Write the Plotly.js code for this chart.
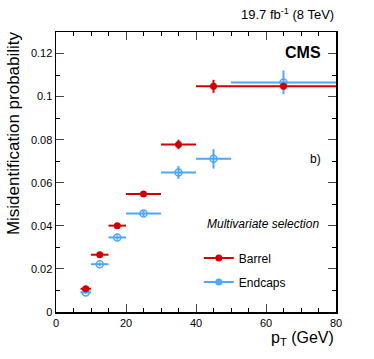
<!DOCTYPE html>
<html>
<head>
<meta charset="utf-8">
<script src="https://cdn.plot.ly/plotly-3.0.1.min.js"></script>
<style>
  body { margin: 0; background: #fff; }
  #chart { width: 374px; height: 359px; }
</style>
</head>
<body>
<div id="chart"></div>
<script>
// pT bins (GeV)
const binLow = [7, 10, 15, 20, 30, 40, 50];
const binHigh = [10, 15, 20, 30, 40, 50, 80];
const binCenter = [8.5, 12.5, 17.5, 25, 35, 45, 65];

// misidentification probability, barrel
const barrelProb = [0.0108, 0.0266, 0.0401, 0.0548, 0.0778, 0.1048, 0.1048];
const barrelErr = [0.0008, 0.0010, 0.0010, 0.0010, 0.0022, 0.0030, 0.0015];

// misidentification probability, endcaps
const endcapProb = [0.0091, 0.0222, 0.0346, 0.0457, 0.0648, 0.0711, 0.1066];
const endcapErr = [0.0006, 0.0008, 0.0010, 0.0012, 0.0030, 0.0045, 0.0055];

const red = '#d10000';
const blue = '#4da6ff';
const font = 'Liberation Sans, Arial, sans-serif';

const xErrPlus = binHigh.map((h, i) => h - binCenter[i]);
const xErrMinus = binLow.map((l, i) => binCenter[i] - l);

const data = [
  {
    x: binCenter, y: endcapProb, type: 'scatter', mode: 'markers',
    showlegend: false,
    marker: { symbol: 'circle-open', size: 7, color: blue, line: { width: 1.5, color: blue } },
    error_x: { type: 'data', array: xErrPlus, arrayminus: xErrMinus, symmetric: false, width: 0, thickness: 2, color: blue },
    error_y: { type: 'data', array: endcapErr, width: 0, thickness: 2, color: blue }
  },
  {
    x: binCenter, y: barrelProb, type: 'scatter', mode: 'markers',
    showlegend: false,
    marker: { symbol: 'circle', size: 7, color: red },
    error_x: { type: 'data', array: xErrPlus, arrayminus: xErrMinus, symmetric: false, width: 0, thickness: 2, color: red },
    error_y: { type: 'data', array: barrelErr, width: 0, thickness: 2, color: red }
  },
  // legend entries
  {
    x: [null], y: [null], type: 'scatter', mode: 'lines+markers', name: 'Barrel', legendgroup: 'b',
    line: { color: red, width: 2 }, marker: { symbol: 'circle', size: 7, color: red }
  },
  {
    x: [null], y: [null], type: 'scatter', mode: 'lines+markers', name: 'Endcaps', legendgroup: 'e',
    line: { color: blue, width: 2 }, marker: { symbol: 'circle', size: 7, color: blue }
  }
];

const layout = {
  width: 374,
  height: 359,
  margin: { l: 56, r: 38, t: 32, b: 47 },
  paper_bgcolor: '#fff',
  plot_bgcolor: '#fff',
  font: { family: font, size: 11, color: '#000' },
  showlegend: true,
  legend: {
    x: 0.51, y: 0.245, xanchor: 'left', yanchor: 'top',
    bgcolor: 'rgba(0,0,0,0)', font: { size: 12 }, tracegroupgap: 5,
    itemwidth: 30
  },
  xaxis: {
    range: [0, 80], dtick: 20, ticks: 'inside', ticklen: 8, tickwidth: 1,
    showgrid: false, zeroline: false, showline: true, linecolor: '#000', linewidth: 1.5,
    mirror: 'allticks',
    minor: { dtick: 5, ticks: 'inside', ticklen: 4, tickwidth: 1, tickcolor: '#000', showgrid: false },
    tickfont: { size: 11 }
  },
  yaxis: {
    range: [0, 0.13], dtick: 0.02, ticks: 'inside', ticklen: 8, tickwidth: 1,
    showgrid: false, zeroline: false, showline: true, linecolor: '#000', linewidth: 1.5,
    mirror: 'allticks',
    minor: { dtick: 0.01, ticks: 'inside', ticklen: 4, tickwidth: 1, tickcolor: '#000', showgrid: false },
    tickfont: { size: 11 }
  },
  annotations: [
    { text: '19.7 fb<sup>-1</sup> (8 TeV)', xref: 'paper', yref: 'paper', x: 1, y: 1.03,
      xanchor: 'right', yanchor: 'bottom', showarrow: false, font: { size: 13 } },
    { text: '<b>CMS</b>', xref: 'paper', yref: 'paper', x: 0.955, y: 0.965,
      xanchor: 'right', yanchor: 'top', showarrow: false, font: { size: 16 } },
    { text: 'b)', xref: 'paper', yref: 'paper', x: 0.955, y: 0.545,
      xanchor: 'right', yanchor: 'middle', showarrow: false, font: { size: 12 } },
    { text: '<i>Multivariate selection</i>', xref: 'paper', yref: 'paper', x: 0.945, y: 0.315,
      xanchor: 'right', yanchor: 'middle', showarrow: false, font: { size: 12 } },
    { text: 'p<sub>T</sub> (GeV)', xref: 'paper', yref: 'paper', x: 1, y: -0.055,
      xanchor: 'right', yanchor: 'top', showarrow: false, font: { size: 16 } },
    { text: 'Misidentification probability', xref: 'paper', yref: 'paper', x: -0.195, y: 1.01,
      xanchor: 'left', yanchor: 'top', textangle: -90, showarrow: false, font: { size: 17 } }
  ]
};

Plotly.newPlot('chart', data, layout, { displayModeBar: false, staticPlot: true });
</script>
</body>
</html>
